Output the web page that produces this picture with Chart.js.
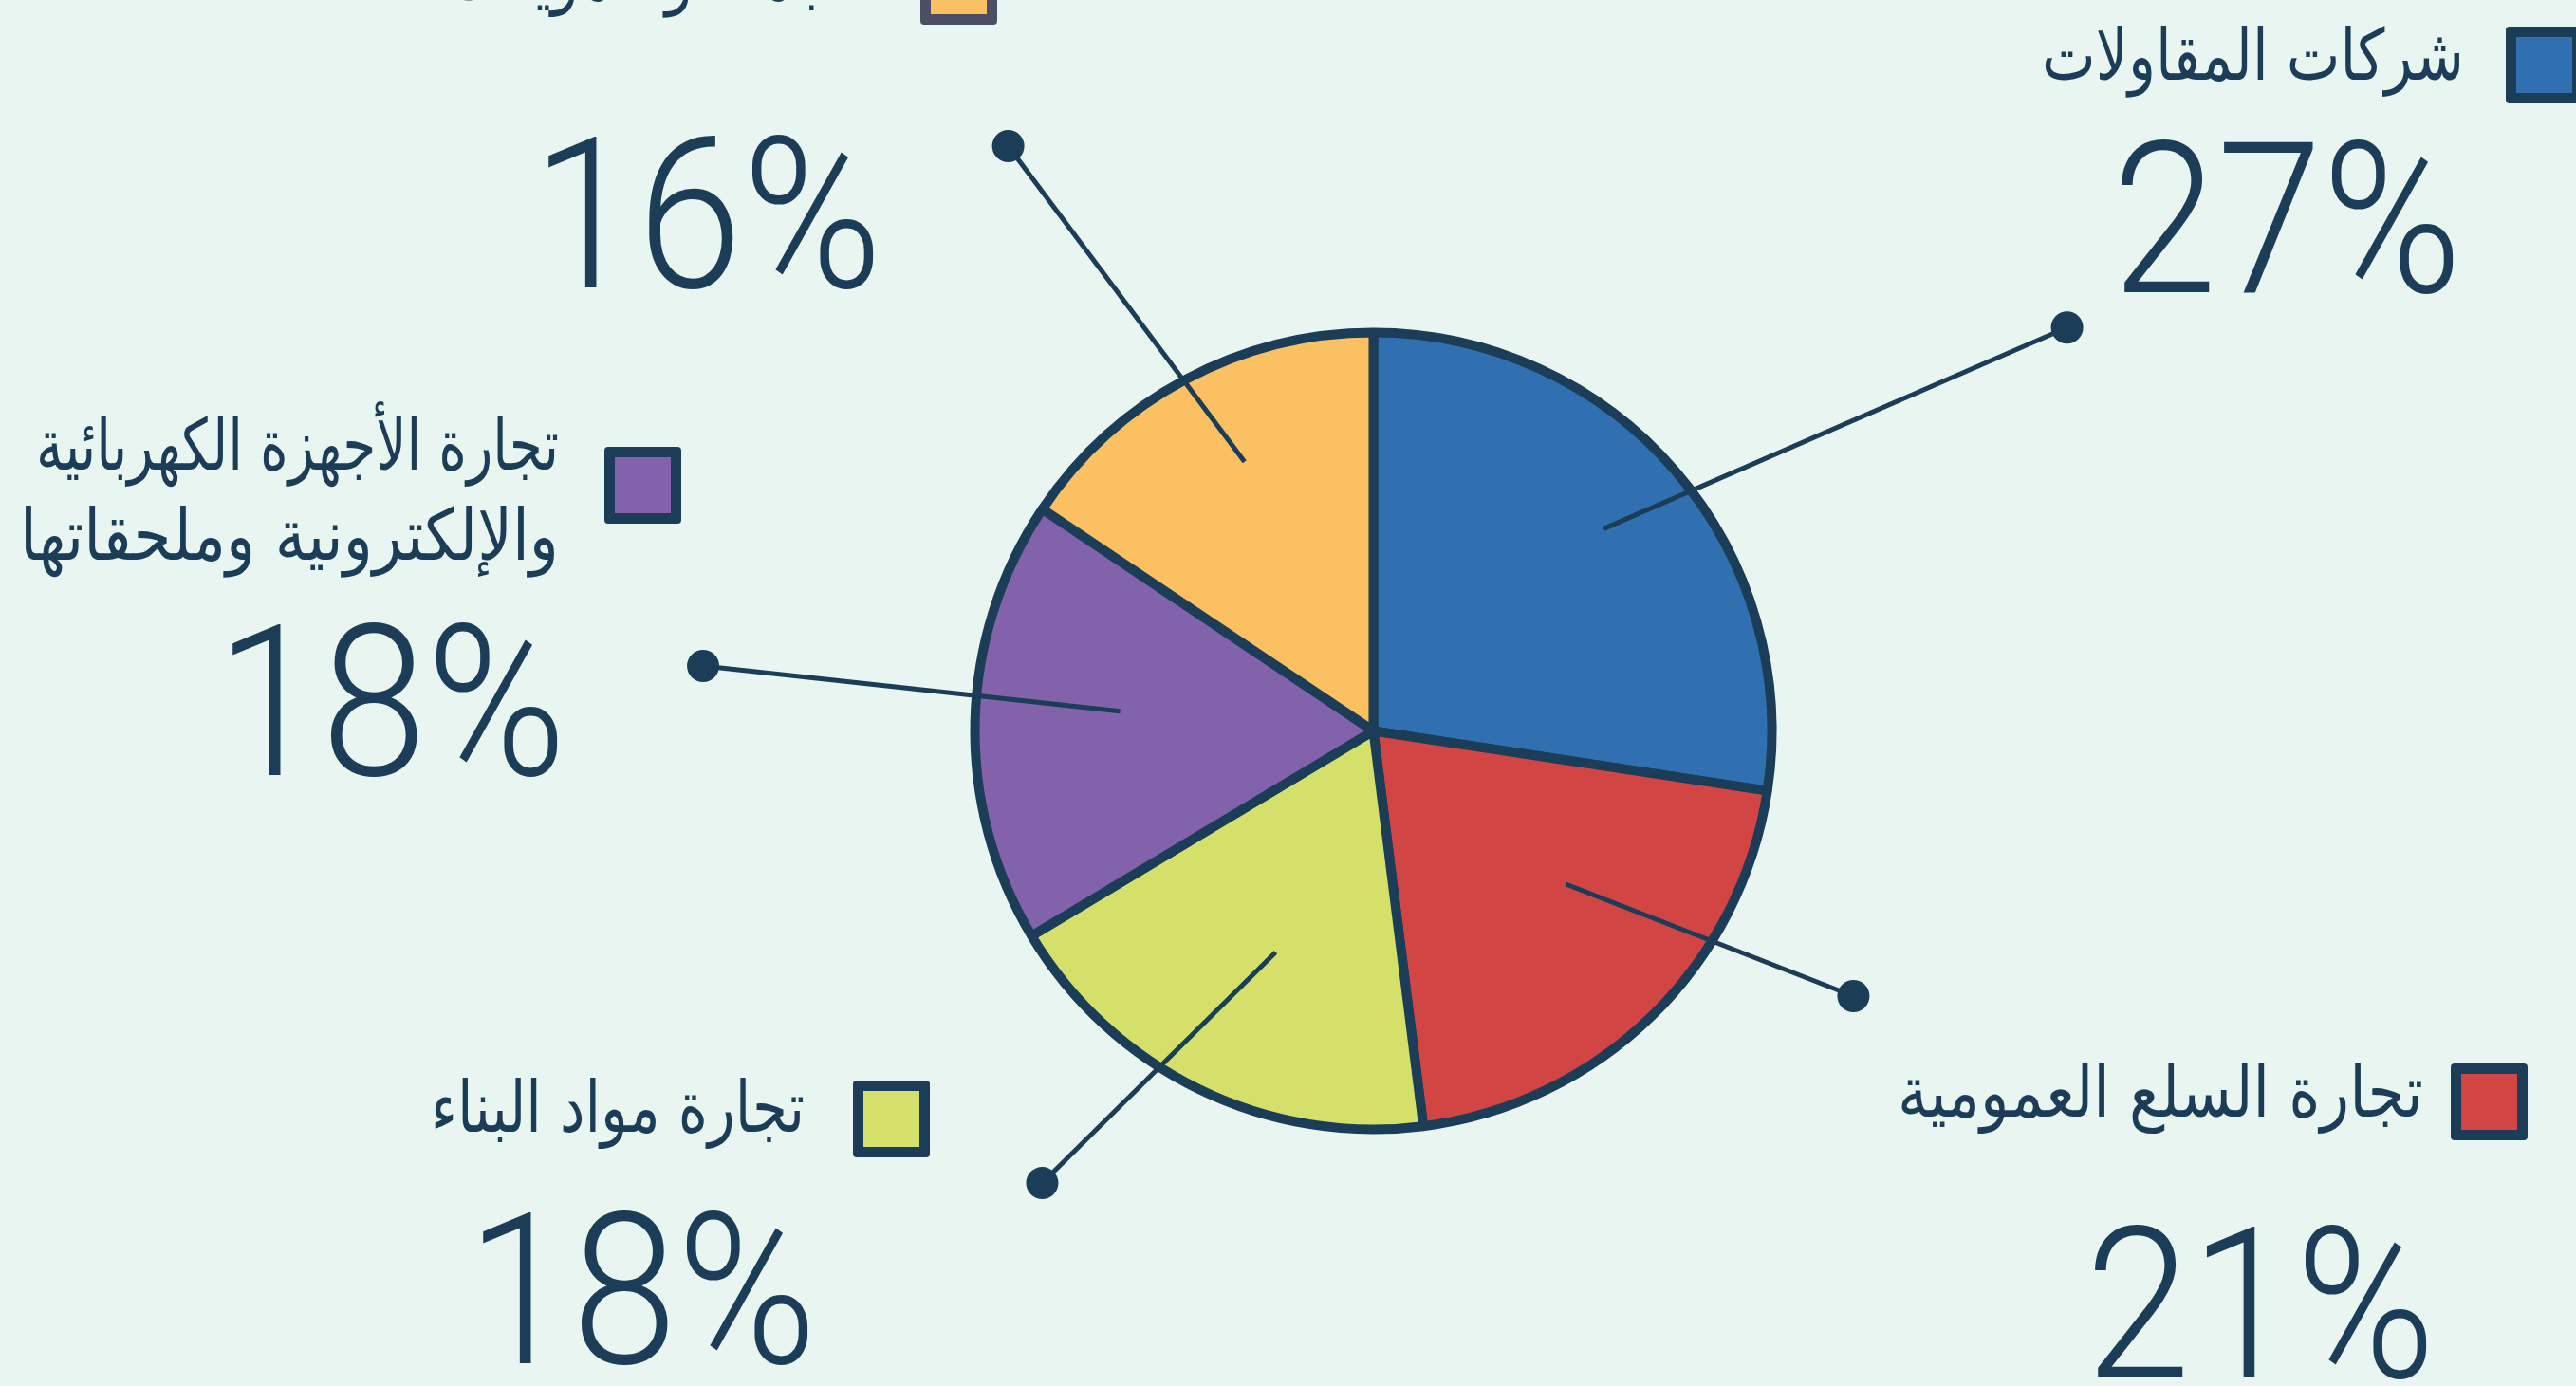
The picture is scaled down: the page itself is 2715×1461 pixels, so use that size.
<!DOCTYPE html>
<html>
<head>
<meta charset="utf-8">
<script src="https://cdn.jsdelivr.net/npm/chart.js@4"></script>
<style>
  html, body { margin: 0; padding: 0; background: #e8f5f0; }
  canvas { display: block; }
</style>
</head>
<body>
<canvas id="c" width="2715" height="1461"></canvas>
<script>
// ---- data ----
const categories = [
  'شركات المقاولات',
  'تجارة السلع العمومية',
  'تجارة مواد البناء',
  'تجارة الأجهزة الكهربائية\nوالإلكترونية وملحقاتها',
  'الجملة والتموينات'
];
// slice sizes as drawn
const sliceValues = [27.4, 20.6, 18.4, 18.0, 15.6];
// percentages as printed on the chart
const shareLabels = ['27%', '21%', '18%', '18%', '16%'];
const sliceColors = ['#3170b0', '#d14644', '#d5e06a', '#8262aa', '#fac062'];

// ---- annotation layout (positions/styles only) ----
const INK = '#1b3d57';
const labelLayout = [
  { textRight: 2597, baseline: 84,   fitWidth: [445],      pctRight: 2595, pctBaseline: 308,  boxX: 2641, boxY: 28,   boxBorder: INK },
  { textRight: 2554, baseline: 1177, fitWidth: [554],      pctRight: 2567, pctBaseline: 1452, boxX: 2583, boxY: 1121, boxBorder: INK },
  { textRight: 848,  baseline: 1193, fitWidth: [394],      pctRight: 861,  pctBaseline: 1437, boxX: 899,  boxY: 1139, boxBorder: INK },
  { textRight: 589,  baseline: 495, lineGap: 95, fitWidth: [551, 568], pctRight: 597, pctBaseline: 817, boxX: 637, boxY: 471, boxBorder: INK },
  { textRight: 912,  baseline: 0,    fitWidth: [null],     pctRight: 930,  pctBaseline: 303,  boxX: 970,  boxY: -55,  boxBorder: '#4b4f63' }
];
// leader lines: angle offsets (deg) from slice middle, radius as fraction of pie radius
const leaderLayout = [
  { inDeg: -0.6, inR: 0.76, outDeg: 10.5,  outR: 1.99 },
  { inDeg: -7.2, inR: 0.61, outDeg: -16.8, outR: 1.36 },
  { inDeg: -2.1, inR: 0.60, outDeg: 10.3,  outR: 1.39 },
  { inDeg: 3.0,  inR: 0.63, outDeg: 4.1,   outR: 1.67 },
  { inDeg: 2.5,  inR: 0.74, outDeg: -3.9,  outR: 1.71 }
];

const annotPlugin = {
  id: 'annot',
  afterDatasetsDraw(chart) {
    const ctx = chart.ctx;
    const meta = chart.getDatasetMeta(0);
    // leader lines + dots
    meta.data.forEach((arc, i) => {
      const p = arc.getProps(['x', 'y', 'startAngle', 'endAngle', 'outerRadius'], true);
      const R = p.outerRadius + 5;
      const mid = (p.startAngle + p.endAngle) / 2;
      const L = leaderLayout[i];
      const a1 = mid + L.inDeg * Math.PI / 180;
      const a2 = mid + L.outDeg * Math.PI / 180;
      const x1 = p.x + Math.cos(a1) * R * L.inR, y1 = p.y + Math.sin(a1) * R * L.inR;
      const x2 = p.x + Math.cos(a2) * R * L.outR, y2 = p.y + Math.sin(a2) * R * L.outR;
      ctx.save();
      ctx.strokeStyle = INK;
      ctx.lineWidth = 5;
      ctx.beginPath(); ctx.moveTo(x1, y1); ctx.lineTo(x2, y2); ctx.stroke();
      ctx.fillStyle = INK;
      ctx.beginPath(); ctx.arc(x2, y2, 17, 0, Math.PI * 2); ctx.fill();
      ctx.restore();
    });
    // labels, boxes, percentages
    categories.forEach((cat, i) => {
      const Lo = labelLayout[i];
      ctx.save();
      // box
      const s = 81, bw = 11;
      ctx.fillStyle = Lo.boxBorder;
      ctx.beginPath(); ctx.roundRect(Lo.boxX, Lo.boxY, s, s, 4); ctx.fill();
      ctx.fillStyle = sliceColors[i];
      ctx.fillRect(Lo.boxX + bw, Lo.boxY + bw, s - 2 * bw, s - 2 * bw);
      // label text (taller, condensed to the width seen in the reference)
      ctx.fillStyle = INK;
      ctx.direction = 'rtl';
      ctx.textAlign = 'right';
      ctx.textBaseline = 'alphabetic';
      ctx.font = '75px "DejaVu Sans"';
      cat.split('\n').forEach((line, k) => {
        const w = ctx.measureText(line).width;
        const target = Lo.fitWidth[k];
        const sx = target ? target / w : 0.81;
        ctx.save();
        ctx.translate(Lo.textRight, Lo.baseline + k * (Lo.lineGap || 0));
        ctx.scale(sx, 1);
        ctx.fillText(line, 0, 0);
        ctx.restore();
      });
      // percentage
      ctx.direction = 'ltr';
      ctx.font = '300 222px Roboto';
      ctx.translate(Lo.pctRight, Lo.pctBaseline);
      ctx.scale(0.9, 1);
      ctx.textAlign = 'right';
      ctx.fillText(shareLabels[i], 0, 0);
      ctx.restore();
    });
  }
};

new Chart(document.getElementById('c'), {
  type: 'pie',
  data: {
    labels: categories,
    datasets: [{
      data: sliceValues,
      backgroundColor: sliceColors,
      borderColor: INK,
      borderWidth: 10
    }]
  },
  options: {
    responsive: false,
    animation: false,
    layout: { padding: { left: 1022.5, right: 842.5, top: 345.5, bottom: 265.5 } },
    plugins: { legend: { display: false }, tooltip: { enabled: false } }
  },
  plugins: [annotPlugin]
});
</script>
</body>
</html>
